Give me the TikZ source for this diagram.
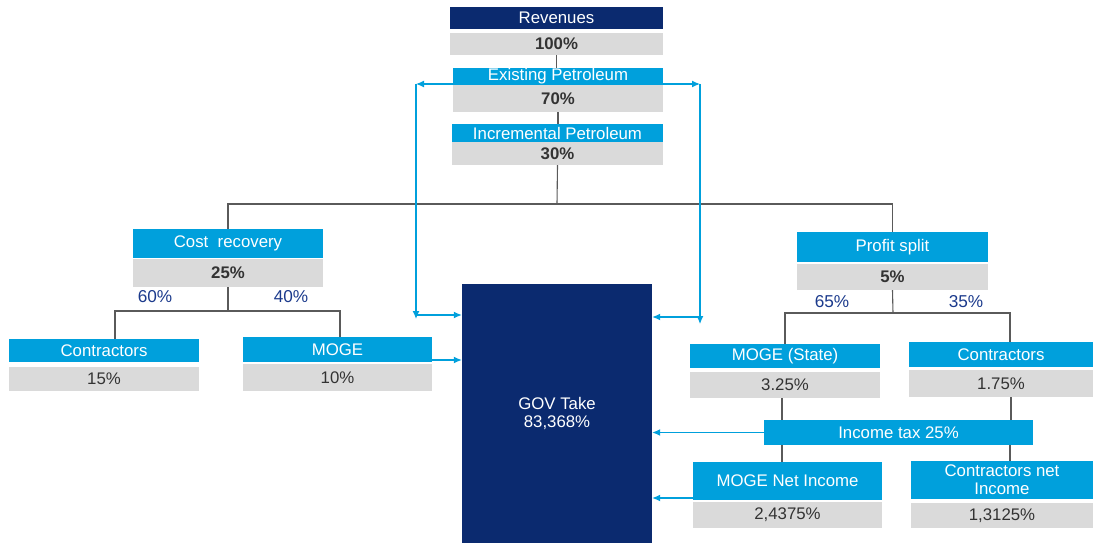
\documentclass[tikz,border=0pt]{standalone}
\usepackage{fontspec}
\setmainfont{Liberation Sans}
\usetikzlibrary{arrows.meta}
\definecolor{govnavy}{HTML}{0B2A6F}
\definecolor{psablue}{HTML}{00A0DC}
\definecolor{cellgrey}{HTML}{DADADA}
\definecolor{valtext}{HTML}{333333}
\definecolor{splittext}{HTML}{1B3A8C}
\definecolor{treeline}{HTML}{5A5A5A}
\tikzset{
  box/.style = {rectangle, inner sep=0pt, align=center, font=\fontsize{16.8}{18}\selectfont},
  navyhead/.style = {box, fill=govnavy, text=white},
  bluehead/.style = {box, fill=psablue, text=white},
  valcell/.style = {box, fill=cellgrey, text=valtext},
  wh/.style 2 args = {minimum width=#1pt, minimum height=#2pt},
  share/.style = {font=\fontsize{17.2}{19}\selectfont, text=splittext},
  tline/.style = {draw=treeline, line width=1.1pt},
  flow/.style = {draw=psablue, line width=1.2pt, -{Latex[length=8pt,width=7pt]}},
}

\begin{document}
\begin{tikzpicture}[x=1pt, y=-1pt]
\useasboundingbox (0,0) rectangle (1093,543);

\node [navyhead, wh={213}{22}] (revhead) at (556.5,18) {Revenues};
\node [valcell, wh={213}{22}] (revval) at (556.5,44) {\bfseries 100\%};
\node [bluehead, wh={210}{17}] (ephead) at (558,76.5) {Existing Petroleum};
\node [valcell, wh={210}{27}] (epval) at (558,98.5) {\bfseries 70\%};
\node [bluehead, wh={211}{18}] (iphead) at (557.5,133) {Incremental Petroleum};
\node [valcell, wh={211}{23}] (ipval) at (557.5,153.5) {\bfseries 30\%};

\node [bluehead, wh={190}{29}] (crhead) at (228,243.5) {Cost\ \ recovery};
\node [valcell, wh={190}{28}] (crval) at (228,273) {\bfseries 25\%};
\node [bluehead, wh={191}{30}] (pshead) at (892.5,247) {Profit split};
\node [valcell, wh={191}{26}] (psval) at (892.5,277) {\bfseries 5\%};

\node [share] (cr60) at (155,297) {60\%};
\node [share] (cr40) at (291,297) {40\%};
\node [share] (ps65) at (832,302) {65\%};
\node [share] (ps35) at (966,302) {35\%};

\node [bluehead, wh={190}{23}] (lchead) at (104,350.5) {Contractors};
\node [valcell, wh={190}{24}] (lcval) at (104,379) {15\%};
\node [bluehead, wh={189}{25}] (lmhead) at (337.5,349.5) {MOGE};
\node [valcell, wh={189}{27}] (lmval) at (337.5,377.5) {10\%};

\node [navyhead, wh={190}{259}] (gov) at (557,413.5) {GOV Take\\83,368\%};

\node [bluehead, wh={190}{24}] (rshead) at (785,356) {MOGE (State)};
\node [valcell, wh={190}{26}] (rsval) at (785,385) {3.25\%};
\node [bluehead, wh={184}{25}] (rchead) at (1001,354.5) {Contractors};
\node [valcell, wh={184}{27}] (rcval) at (1001,383.5) {1.75\%};
\node [bluehead, wh={269}{25}] (tax) at (898.5,432.5) {Income tax 25\%};
\node [bluehead, wh={189}{38}] (mnhead) at (787.5,481) {MOGE Net Income};
\node [valcell, wh={189}{26}] (mnval) at (787.5,515) {2,4375\%};
\node [bluehead, wh={182}{38}] (cnhead) at (1002,480) {Contractors net\\Income};
\node [valcell, wh={182}{25}] (cnval) at (1002,515.5) {1,3125\%};

\coordinate (topsplit) at (557,204);
\coordinate (crsplit) at (228,311);
\coordinate (pssplit) at (893,313);
\coordinate (lturn) at (416,84);
\coordinate (lbend) at (416,315);
\coordinate (rturn) at (700,84);
\coordinate (rbend) at (700,317);

\draw [tline] (revval.south) -- (revval.south |- ephead.north);
\draw [tline] (epval.south) -- (epval.south |- iphead.north);
\draw [tline] (ipval.south) -- (topsplit);
\draw [tline] (crhead.north) |- (topsplit) -| (pshead.north);
\draw [tline] (crval.south) -- (crsplit);
\draw [tline] ([xshift=11pt]lchead.north) |- (crsplit) -| ([xshift=2.5pt]lmhead.north);
\draw [tline] (psval.south) -- (pssplit);
\draw [tline] (rshead.north) |- (pssplit) -| ([xshift=9pt]rchead.north);
\draw [tline] ([xshift=-3pt]rsval.south) -- ([xshift=-3pt]rsval.south |- tax.north);
\draw [tline] ([xshift=10pt]rcval.south) -- ([xshift=10pt]rcval.south |- tax.north);
\draw [tline] ([xshift=-5.5pt]mnhead.north) -- ([xshift=-5.5pt]mnhead.north |- tax.south);
\draw [tline] ([xshift=8pt]cnhead.north) -- ([xshift=8pt]cnhead.north |- tax.south);

\draw [flow] ([yshift=-7.5pt]ephead.west) -- (lturn);
\draw [flow] (lturn) -- ([yshift=-4pt]lbend);
\draw [flow] (lbend) -- (lbend -| gov.west);
\draw [flow] ([yshift=-7.5pt]ephead.east) -- (rturn);
\draw [flow] (rturn) -- ([yshift=-7pt]rbend);
\draw [flow] (rbend) -- (rbend -| gov.east);
\draw [flow] ([yshift=-10.5pt]lmhead.east) coordinate (mogeout) -- (mogeout -| gov.west);
\draw [flow] (tax.west) -- (tax.west -| gov.east);
\draw [flow] ([yshift=-17pt]mnhead.west) coordinate (netout) -- (netout -| gov.east);
\end{tikzpicture}
\end{document}
